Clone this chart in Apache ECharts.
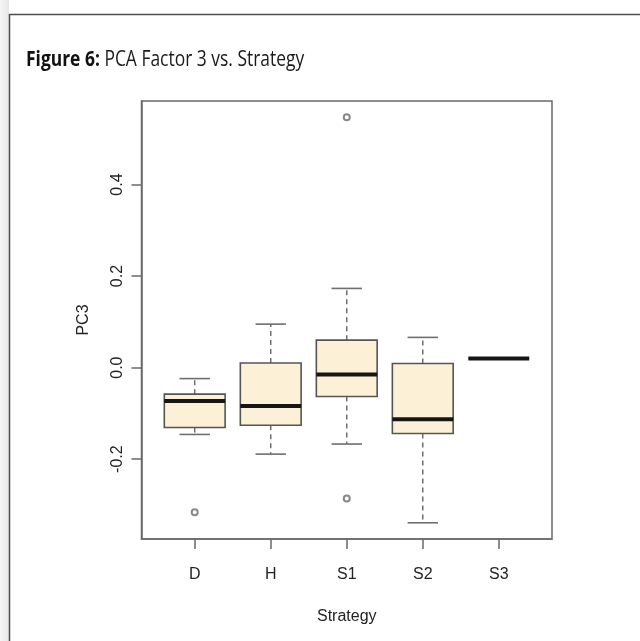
<!DOCTYPE html>
<html>
<head>
<meta charset="utf-8">
<title>PCA Factor 3 vs. Strategy</title>
<script src="https://cdn.jsdelivr.net/npm/echarts@6/dist/echarts.min.js"></script>
<style>
  html, body { margin: 0; padding: 0; background: #ffffff; }
  #chart { width: 640px; height: 641px; }
</style>
</head>
<body>
<div id="chart"></div>
<script>
// Box plot of the third principal component grouped by strategy
const categories = ['D', 'H', 'S1', 'S2', 'S3'];
const lowerWhisker = [-0.146, -0.189, -0.167, -0.339, 0.020];
const lowerQuartile = [-0.131, -0.126, -0.063, -0.144, 0.020];
const medians = [-0.073, -0.084, -0.015, -0.113, 0.020];
const upperQuartile = [-0.058, 0.010, 0.060, 0.009, 0.020];
const upperWhisker = [-0.024, 0.095, 0.173, 0.066, 0.020];

// Points beyond the whiskers
const outlierCategory = ['D', 'S1', 'S1'];
const outlierValue = [-0.316, 0.547, -0.286];

const yTicks = [-0.2, 0.0, 0.2, 0.4];

// Box positions 1..n on a numeric x scale, as in base R graphics
const positions = categories.map((c, i) => i + 1);
const boxData = categories.map((c, i) => [
  positions[i], lowerWhisker[i], lowerQuartile[i], medians[i], upperQuartile[i], upperWhisker[i]
]);
const outlierData = outlierCategory.map((c, i) => [categories.indexOf(c) + 1, outlierValue[i]]);

// Axis ranges padded by 4% of the data range
const allValues = lowerWhisker.concat(upperWhisker, outlierValue);
const yLo = Math.min.apply(null, allValues);
const yHi = Math.max.apply(null, allValues);
const yPad = (yHi - yLo) * 0.04;
const xLo = 0.5, xHi = categories.length + 0.5;
const xPad = (xHi - xLo) * 0.04;

const TEXT = '#232323';
const FRAME = '#6a6a6a';
const FONT = '"Liberation Sans", Arial, sans-serif';
const BOX_WIDTH = 0.8;

const chart = echarts.init(document.getElementById('chart'), null, { renderer: 'canvas' });

function renderBox(params, api) {
  const x = api.value(0);
  const lo = api.value(1), q1 = api.value(2), med = api.value(3), q3 = api.value(4), hi = api.value(5);
  const half = api.size([BOX_WIDTH, 0])[0] / 2;
  const capHalf = half / 2;
  const pLo = api.coord([x, lo]);
  const pQ1 = api.coord([x, q1]);
  const pMed = api.coord([x, med]);
  const pQ3 = api.coord([x, q3]);
  const pHi = api.coord([x, hi]);
  const cx = pMed[0];
  const whiskerStyle = { stroke: '#6e6e6e', lineWidth: 1.5, lineDash: [5, 4], fill: null };
  const capStyle = { stroke: '#6e6e6e', lineWidth: 1.6, fill: null };
  const children = [];
  if (hi !== q3) {
    children.push({ type: 'line', shape: { x1: cx, y1: pQ3[1], x2: cx, y2: pHi[1] }, style: whiskerStyle });
  }
  if (lo !== q1) {
    children.push({ type: 'line', shape: { x1: cx, y1: pQ1[1], x2: cx, y2: pLo[1] }, style: whiskerStyle });
  }
  children.push({ type: 'line', shape: { x1: cx - capHalf, y1: pHi[1], x2: cx + capHalf, y2: pHi[1] }, style: capStyle });
  children.push({ type: 'line', shape: { x1: cx - capHalf, y1: pLo[1], x2: cx + capHalf, y2: pLo[1] }, style: capStyle });
  children.push({
    type: 'rect',
    shape: { x: cx - half, y: pQ3[1], width: half * 2, height: pQ1[1] - pQ3[1] },
    style: { fill: '#fcf1d7', stroke: '#555555', lineWidth: 1.6 }
  });
  children.push({
    type: 'line',
    shape: { x1: cx - half, y1: pMed[1], x2: cx + half, y2: pMed[1] },
    style: { stroke: '#151515', lineWidth: 4, fill: null }
  });
  return { type: 'group', children: children };
}

const option = {
  backgroundColor: '#ffffff',
  animation: false,
  textStyle: { fontFamily: FONT },
  graphic: [
    // Page margin shading and panel frame
    {
      type: 'rect', silent: true, z: -10,
      shape: { x: 0, y: 0, width: 9, height: 641 },
      style: {
        fill: new echarts.graphic.LinearGradient(0, 0, 1, 0, [
          { offset: 0, color: '#f6f6f6' },
          { offset: 1, color: '#e6e6e6' }
        ])
      }
    },
    {
      type: 'rect', silent: true, z: -10,
      shape: { x: 9.5, y: 14.5, width: 700, height: 700 },
      style: { fill: null, stroke: '#4e4e4e', lineWidth: 1.5 }
    },
    // Figure caption
    {
      type: 'text', silent: true,
      x: 26, y: 60, scaleX: 0.83,
      style: {
        text: '{b|Figure 6:} PCA Factor 3 vs. Strategy',
        fontFamily: '"Open Sans", "Noto Sans", sans-serif',
        fontSize: 21,
        fill: '#1a1a1a',
        verticalAlign: 'middle',
        align: 'left',
        rich: {
          b: { fontFamily: '"Open Sans", "Noto Sans", sans-serif', fontSize: 21, fontWeight: 'bold', fill: '#111111' }
        }
      }
    }
  ],
  grid: {
    left: 141.5, top: 101, right: 88, bottom: 102,
    show: true, borderColor: FRAME, borderWidth: 1.5, backgroundColor: 'transparent'
  },
  xAxis: {
    type: 'value',
    min: xLo - xPad,
    max: xHi + xPad,
    name: 'Strategy',
    nameLocation: 'middle',
    nameGap: 70,
    nameTextStyle: { color: TEXT, fontSize: 16, fontFamily: FONT },
    axisLine: { show: true, onZero: false, lineStyle: { color: FRAME, width: 1.5 } },
    axisTick: { show: true, inside: false, length: 10, customValues: positions, lineStyle: { color: FRAME, width: 1.5 } },
    axisLabel: {
      customValues: positions,
      margin: 28,
      color: TEXT,
      fontSize: 16,
      fontFamily: FONT,
      formatter: function (v) { return categories[Math.round(v) - 1]; }
    },
    splitLine: { show: false }
  },
  yAxis: {
    type: 'value',
    min: yLo - yPad,
    max: yHi + yPad,
    name: 'PC3',
    nameLocation: 'middle',
    nameRotate: 90,
    nameGap: 50,
    nameTextStyle: { color: TEXT, fontSize: 16, fontFamily: FONT },
    axisLine: { show: true, onZero: false, lineStyle: { color: FRAME, width: 1.5 } },
    axisTick: { show: true, inside: false, length: 10, customValues: yTicks, lineStyle: { color: FRAME, width: 1.5 } },
    axisLabel: {
      customValues: yTicks,
      rotate: 90,
      margin: 16,
      color: TEXT,
      fontSize: 16,
      fontFamily: FONT,
      formatter: function (v) { return v.toFixed(1); }
    },
    splitLine: { show: false }
  },
  series: [
    {
      type: 'custom',
      name: 'PC3',
      renderItem: renderBox,
      encode: { x: 0, y: [1, 2, 3, 4, 5] },
      data: boxData,
      z: 2
    },
    {
      type: 'scatter',
      name: 'outliers',
      data: outlierData,
      symbol: 'emptyCircle',
      symbolSize: 6,
      itemStyle: { color: '#6a6a6a', borderColor: '#6a6a6a', borderWidth: 1.5 },
      z: 3
    }
  ]
};

chart.setOption(option);
</script>
</body>
</html>
